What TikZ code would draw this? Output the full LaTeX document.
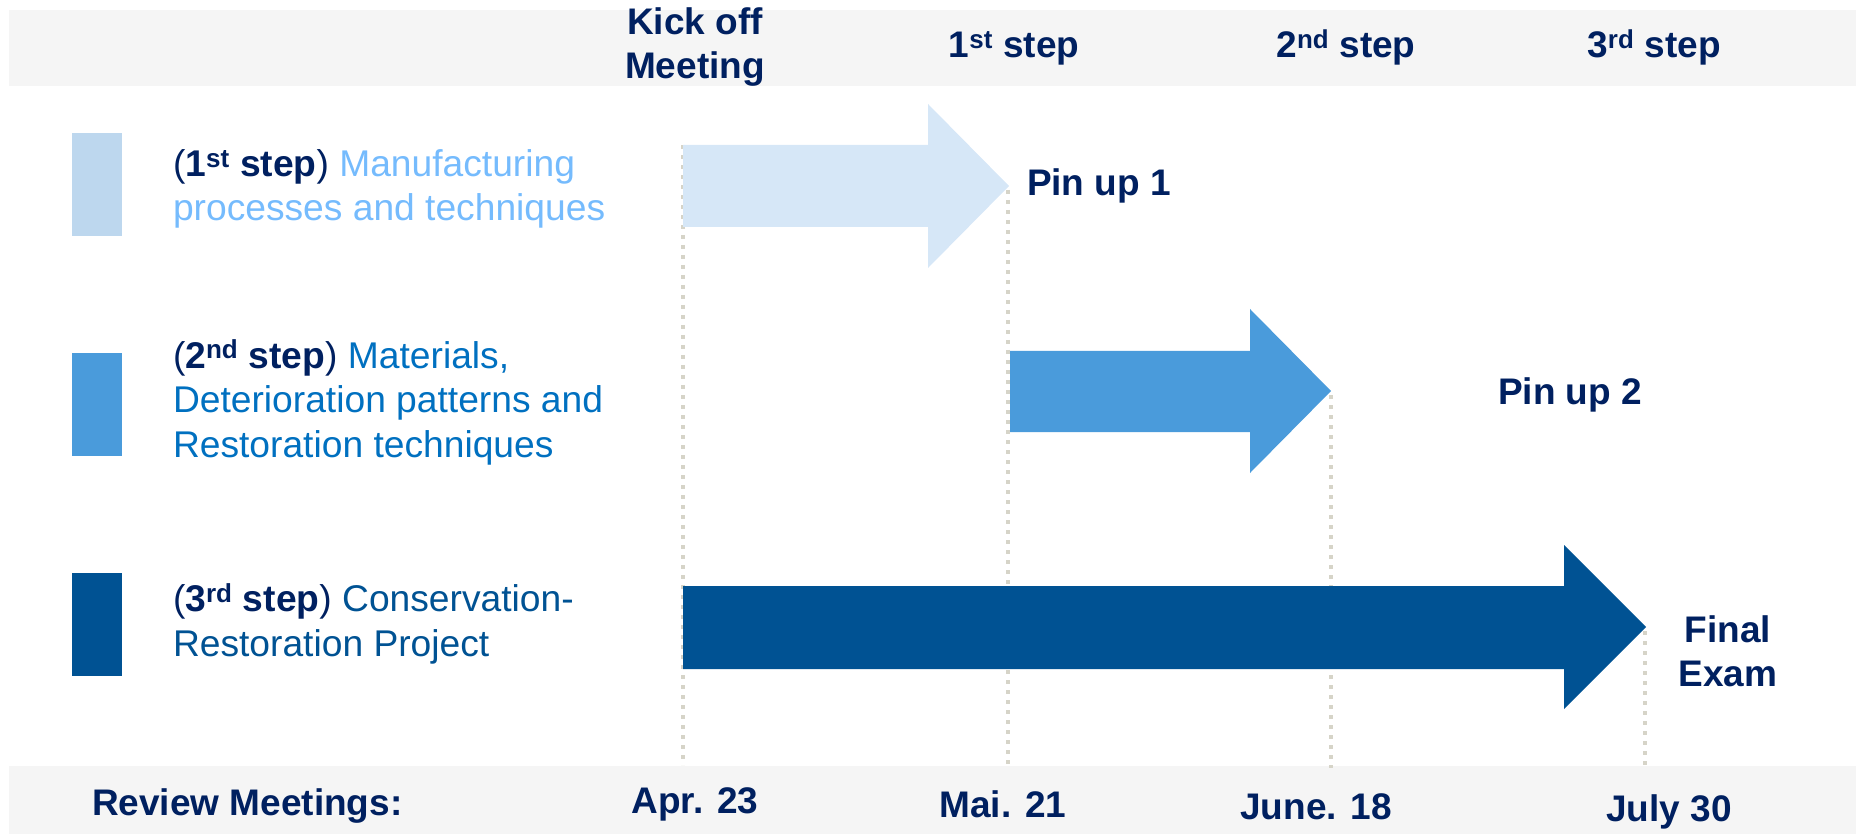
\documentclass[tikz,border=0pt]{standalone}
\usepackage{fontspec}
\setmainfont{Liberation Sans}
\definecolor{navy}{HTML}{002060}
\definecolor{bandc}{HTML}{F5F5F5}
\definecolor{dotc}{HTML}{D6D4C8}
\definecolor{arrA}{HTML}{D6E7F7}
\definecolor{sqA}{HTML}{BDD7EE}
\definecolor{txtA}{HTML}{75BBFD}
\definecolor{arrB}{HTML}{4A9BDB}
\definecolor{txtB}{HTML}{0070C0}
\definecolor{arrC}{HTML}{005293}
\definecolor{txtC}{HTML}{005293}
\tikzset{
  txt/.style={font=\fontsize{37.2}{44.5}\selectfont, inner sep=0pt, outer sep=0pt, text=navy},
  bold/.style={font=\fontsize{37}{44}\selectfont\bfseries, inner sep=0pt, outer sep=0pt, text=navy},
  dotline/.style={draw=dotc, line width=4.5pt, dash pattern=on 4pt off 6pt},
  band/.style={fill=bandc, draw=none},
}
\newcommand{\stp}[1]{{\color{navy}(\textbf{#1 step})}}
\begin{document}
\begin{tikzpicture}[x=1pt,y=-1pt]
\useasboundingbox (0,0) rectangle (1856,834);
% bands
\fill[band] (9,10) rectangle (1856,86);
\fill[band] (9,766) rectangle (1856,834);
% dotted guides
\coordinate (d1t) at (683,145); \coordinate (d1b) at (683,765);
\coordinate (d2t) at (1008,190); \coordinate (d2b) at (1008,765);
\coordinate (d3t) at (1331,395); \coordinate (d3b) at (1331,768);
\coordinate (d4t) at (1645,631); \coordinate (d4b) at (1645,765);
\draw[dotline] (d1t) -- (d1b);
\draw[dotline] (d2t) -- (d2b);
\draw[dotline] (d3t) -- (d3b);
\draw[dotline] (d4t) -- (d4b);
% arrows
\fill[arrA] (683,145) -- (928,145) -- (928,104) -- (1009,186) -- (928,268) -- (928,227) -- (683,227) -- cycle;
\fill[arrB] (1010,351) -- (1250,351) -- (1250,309) -- (1331,391) -- (1250,473) -- (1250,432) -- (1010,432) -- cycle;
\fill[arrC] (683,586) -- (1564,586) -- (1564,545) -- (1646,627) -- (1564,709) -- (1564,669) -- (683,669) -- cycle;
% legend squares
\fill[sqA] (72,133) rectangle (122,236);
\fill[arrB] (72,353) rectangle (122,456);
\fill[arrC] (72,573) rectangle (122,676);
% legend texts (base anchor = last line baseline)
\node[txt, text=txtA, align=left, anchor=base west] (l1) at (173,221) {\stp{1\textsuperscript{st}} Manufacturing\\processes and techniques};
\node[txt, text=txtB, align=left, anchor=base west] (l2) at (173,457) {\stp{2\textsuperscript{nd}} Materials,\\Deterioration patterns and\\Restoration techniques};
\node[txt, text=txtC, align=left, anchor=base west] (l3) at (173,656) {\stp{3\textsuperscript{rd}} Conservation-\\Restoration Project};
% header
\node[bold, align=center, anchor=base] (kick) at (695,79) {Kick off\\Meeting};
\node[bold, anchor=base] (h1) at (1014,58) {1\textsuperscript{st} step};
\node[bold, anchor=base] (h2) at (1346,58) {2\textsuperscript{nd} step};
\node[bold, anchor=base] (h3) at (1654,58) {3\textsuperscript{rd} step};
% milestone labels
\node[bold, anchor=base west] (p1) at (1027,196) {Pin up 1};
\node[bold, anchor=base] (p2) at (1570,404) {Pin up 2};
\node[bold, align=center, anchor=base] (fe) at (1728,686) {Final\\Exam};
% bottom
\node[bold, anchor=base west] (rm) at (92,815) {Review Meetings:};
\node[bold, anchor=base] (m1) at (695,813) {Apr. 23};
\node[bold, anchor=base] (m2) at (1003,817) {Mai. 21};
\node[bold, anchor=base] (m3) at (1316,819) {June. 18};
\node[bold, anchor=base] (m4) at (1669,821) {July 30};
\end{tikzpicture}
\end{document}
